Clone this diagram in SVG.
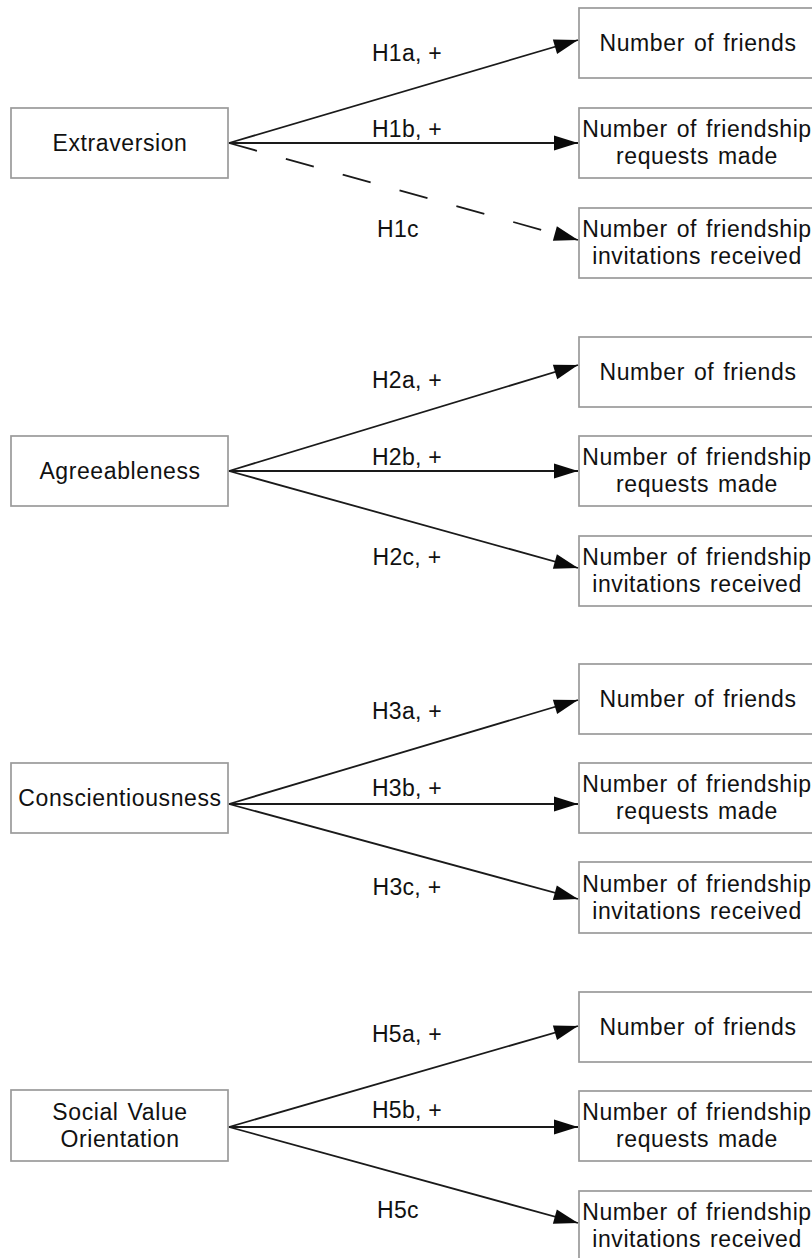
<svg xmlns="http://www.w3.org/2000/svg" width="812" height="1258" viewBox="0 0 812 1258">
<defs>
<style>
.box{fill:#fff;stroke:#9a9a9a;stroke-width:1.7}
.t{font-family:"Liberation Sans",Arial,sans-serif;font-size:23px;letter-spacing:0.6px;word-spacing:2px;fill:#111;text-anchor:middle}
.lab{font-family:"Liberation Sans",Arial,sans-serif;font-size:23px;letter-spacing:0.3px;fill:#111;text-anchor:middle}
.ln{stroke:#1a1a1a;stroke-width:1.8;fill:none;marker-end:url(#ah)}
.dash{stroke-dasharray:29 30}
</style>
<marker id="ah" markerUnits="userSpaceOnUse" markerWidth="24" markerHeight="15" refX="24" refY="7.5" orient="auto" overflow="visible">
<path d="M0,0 L24,7.5 L0,15 Z" fill="#0a0a0a"/>
</marker>
</defs>
<rect width="812" height="1258" fill="#fff"/>

<!-- Group 1 -->
<g id="extraversion"><rect class="box" x="11" y="108" width="217" height="70"/><text class="t" x="120" y="151">Extraversion</text></g>
<g id="g1-friends"><rect class="box" x="579" y="8" width="240" height="70"/><text class="t" x="698" y="51">Number of friends</text></g>
<g id="g1-requests"><rect class="box" x="579" y="108" width="240" height="70"/><text class="t" x="697" y="137">Number of friendship</text><text class="t" x="697" y="164">requests made</text></g>
<g id="g1-invitations"><rect class="box" x="579" y="208" width="240" height="70"/><text class="t" x="697" y="237">Number of friendship</text><text class="t" x="697" y="264">invitations received</text></g>

<!-- Group 2 -->
<g id="agreeableness"><rect class="box" x="11" y="436" width="217" height="70"/><text class="t" x="120" y="479">Agreeableness</text></g>
<g id="g2-friends"><rect class="box" x="579" y="337" width="240" height="70"/><text class="t" x="698" y="380">Number of friends</text></g>
<g id="g2-requests"><rect class="box" x="579" y="436" width="240" height="70"/><text class="t" x="697" y="465">Number of friendship</text><text class="t" x="697" y="492">requests made</text></g>
<g id="g2-invitations"><rect class="box" x="579" y="536" width="240" height="70"/><text class="t" x="697" y="565">Number of friendship</text><text class="t" x="697" y="592">invitations received</text></g>

<!-- Group 3 -->
<g id="conscientiousness"><rect class="box" x="11" y="763" width="217" height="70"/><text class="t" x="120" y="806">Conscientiousness</text></g>
<g id="g3-friends"><rect class="box" x="579" y="664" width="240" height="70"/><text class="t" x="698" y="707">Number of friends</text></g>
<g id="g3-requests"><rect class="box" x="579" y="763" width="240" height="70"/><text class="t" x="697" y="792">Number of friendship</text><text class="t" x="697" y="819">requests made</text></g>
<g id="g3-invitations"><rect class="box" x="579" y="862" width="240" height="71"/><text class="t" x="697" y="892">Number of friendship</text><text class="t" x="697" y="919">invitations received</text></g>

<!-- Group 4 -->
<g id="svo"><rect class="box" x="11" y="1090" width="217" height="71"/><text class="t" x="120" y="1120">Social Value</text><text class="t" x="120" y="1147">Orientation</text></g>
<g id="g4-friends"><rect class="box" x="579" y="992" width="240" height="70"/><text class="t" x="698" y="1035">Number of friends</text></g>
<g id="g4-requests"><rect class="box" x="579" y="1091" width="240" height="70"/><text class="t" x="697" y="1120">Number of friendship</text><text class="t" x="697" y="1147">requests made</text></g>
<g id="g4-invitations"><rect class="box" x="579" y="1191" width="240" height="72"/><text class="t" x="697" y="1220">Number of friendship</text><text class="t" x="697" y="1247">invitations received</text></g>

<g id="connectors">
<line class="ln" x1="229" y1="143" x2="578" y2="40"/>
<line class="ln" x1="229" y1="143" x2="578" y2="143"/>
<line class="ln dash" x1="229" y1="143" x2="578" y2="240"/>

<line class="ln" x1="229" y1="471" x2="578" y2="365"/>
<line class="ln" x1="229" y1="471" x2="578" y2="471"/>
<line class="ln" x1="229" y1="471" x2="578" y2="568"/>

<line class="ln" x1="229" y1="804" x2="578" y2="700"/>
<line class="ln" x1="229" y1="804" x2="578" y2="804"/>
<line class="ln" x1="229" y1="804" x2="578" y2="899"/>

<line class="ln" x1="229" y1="1127" x2="578" y2="1026"/>
<line class="ln" x1="229" y1="1127" x2="578" y2="1127"/>
<line class="ln" x1="229" y1="1127" x2="578" y2="1223"/>

<text class="lab" x="407" y="61">H1a, +</text>
<text class="lab" x="407" y="137">H1b, +</text>
<text class="lab" x="398" y="237">H1c</text>
<text class="lab" x="407" y="388">H2a, +</text>
<text class="lab" x="407" y="465">H2b, +</text>
<text class="lab" x="407" y="565">H2c, +</text>
<text class="lab" x="407" y="719">H3a, +</text>
<text class="lab" x="407" y="796">H3b, +</text>
<text class="lab" x="407" y="895">H3c, +</text>
<text class="lab" x="407" y="1042">H5a, +</text>
<text class="lab" x="407" y="1118">H5b, +</text>
<text class="lab" x="398" y="1218">H5c</text>
</g>
</svg>
